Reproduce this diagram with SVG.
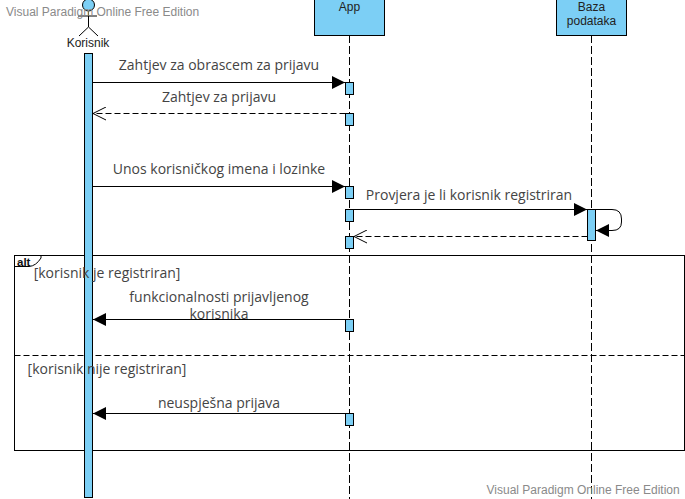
<svg xmlns="http://www.w3.org/2000/svg" width="685" height="499" viewBox="0 0 685 499">
<defs>
<style>
.box{fill:#7ccff5;stroke:#000;stroke-width:1}
.ln{fill:none;stroke:#000;stroke-width:1}
.dash{stroke-dasharray:6 3}
.life{fill:none;stroke:#000;stroke-width:1;stroke-dasharray:8 3}
.msg{font-family:"Open Sans",sans-serif;font-size:14px;fill:#444;text-anchor:middle}
.lab{font-family:"Liberation Sans",Arial,sans-serif;font-size:12px;fill:#222;text-anchor:middle}
.wm{font-family:"Liberation Sans",Arial,sans-serif;font-size:12px;fill:#8a8a8a}
</style>
<marker id="solid" markerUnits="userSpaceOnUse" markerWidth="14" markerHeight="14" refX="13" refY="7" orient="auto"><path d="M0 0.5L13 7L0 13.5Z" fill="#000"/></marker>
<marker id="open" markerUnits="userSpaceOnUse" markerWidth="14" markerHeight="14" refX="13" refY="7" orient="auto"><path d="M0 0.5L13 7L0 13.5" fill="none" stroke="#000"/></marker>
</defs>
<g id="frame-alt">
<rect class="ln" x="14.5" y="255.5" width="670" height="195"/>
<path class="ln dash" d="M14.5 355.5H685"/>
<path class="ln" d="M14.5 266.5H29Q36 266 41 258L41 255.5"/>
<text x="17" y="266" font-family="Liberation Sans,Arial,sans-serif" font-size="11.5" font-weight="bold" fill="#111">alt</text>
</g>
<g id="lifelines">
<path class="life" d="M349.5 35V499"/>
<path class="life" d="M591.5 35V499"/>
</g>
<g id="node-korisnik">
<circle cx="88.500" cy="5" r="6" fill="#7ccff5" stroke="#000"/>
<path class="ln" d="M88.500 11V27M78 16H97M88.500 27L79 36M88.500 27L98 36"/>
<text class="lab" x="88" y="47">Korisnik</text>
<rect class="box" x="84.500" y="53.500" width="8" height="444"/>
</g>
<g id="node-app">
<rect class="box" x="314.500" y="-1" width="70" height="36.500"/>
<text class="lab" x="349.500" y="11">App</text>
<rect class="box" x="345.500" y="82.500" width="8" height="12"/>
<rect class="box" x="345.500" y="113.500" width="8" height="12"/>
<rect class="box" x="345.500" y="186.500" width="8" height="12"/>
<rect class="box" x="345.500" y="209.500" width="8" height="12"/>
<rect class="box" x="345.500" y="236.500" width="8" height="12"/>
<rect class="box" x="345.500" y="319.500" width="8" height="12"/>
<rect class="box" x="345.500" y="413.500" width="8" height="12"/>
</g>
<g id="node-baza">
<rect class="box" x="556.500" y="-1" width="70" height="36.500"/>
<text class="lab" x="591.500" y="11">Baza</text>
<text class="lab" x="591.500" y="25">podataka</text>
<rect class="box" x="587.500" y="209.500" width="8" height="31"/>
</g>
<g id="connectors">
<path class="ln" d="M92.500 82.500H345" marker-end="url(#solid)"/>
<path class="ln dash" d="M345.500 113.500H93" marker-end="url(#open)"/>
<path class="ln" d="M92.500 186.500H345" marker-end="url(#solid)"/>
<path class="ln" d="M353.500 209.500H587" marker-end="url(#solid)"/>
<path class="ln" d="M595.500 209.500H612Q621.500 209.500 621.500 219V222Q621.500 230.500 612 230.500H596" stroke-width="1.300" marker-end="url(#solid)"/>
<path class="ln dash" d="M587.500 236.500H354" marker-end="url(#open)"/>
<path class="ln" d="M345.500 319.500H93" marker-end="url(#solid)"/>
<path class="ln" d="M345.500 413.500H93" marker-end="url(#solid)"/>
</g>
<g id="labels">
<text class="msg" x="219" y="70">Zahtjev za obrascem za prijavu</text>
<text class="msg" x="219" y="102">Zahtjev za prijavu</text>
<text class="msg" x="219" y="174">Unos korisničkog imena i lozinke</text>
<text class="msg" x="469" y="200">Provjera je li korisnik registriran</text>
<text class="msg" x="107" y="278">[korisnik je registriran]</text>
<text class="msg" x="219" y="302">funkcionalnosti prijavljenog</text>
<text class="msg" x="219" y="319">korisnika</text>
<text class="msg" x="107" y="374">[korisnik nije registriran]</text>
<text class="msg" x="219" y="408">neuspješna prijava</text>
</g>
<g id="watermarks">
<text class="wm" x="6" y="16">Visual Paradigm Online Free Edition</text>
<text class="wm" x="486.500" y="494">Visual Paradigm Online Free Edition</text>
</g>
</svg>
